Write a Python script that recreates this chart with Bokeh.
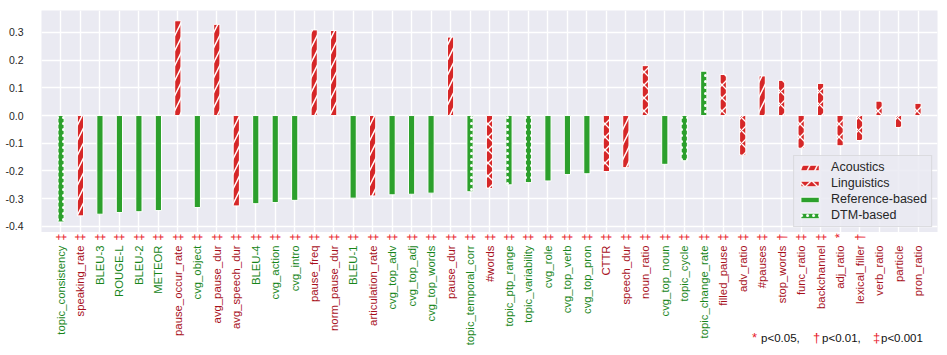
import math
from bokeh.plotting import figure
from bokeh.layouts import column
from bokeh.models import (ColumnDataSource, Range1d, FixedTicker, Legend, LegendItem,
                          PrintfTickFormatter)
from bokeh.core.properties import value, field
from bokeh.embed import file_html
from bokeh.resources import INLINE

# ---------------- data ----------------
features = ["topic_consistency", "speaking_rate", "BLEU-3", "ROUGE-L", "BLEU-2", "METEOR",
            "pause_occur_rate", "cvg_object", "avg_pause_dur", "avg_speech_dur", "BLEU-4",
            "cvg_action", "cvg_intro", "pause_freq", "norm_pause_dur", "BLEU-1",
            "articulation_rate", "cvg_top_adv", "cvg_top_adj", "cvg_top_words", "pause_dur",
            "topic_temporal_corr", "#words", "topic_ptp_range", "topic_variability", "cvg_role",
            "cvg_top_verb", "cvg_top_pron", "CTTR", "speech_dur", "noun_ratio", "cvg_top_noun",
            "topic_cycle", "topic_change_rate", "filled_pause", "adv_ratio", "#pauses",
            "stop_words", "func_ratio", "backchannel", "adj_ratio", "lexical_filler",
            "verb_ratio", "particle", "pron_ratio"]
groups = ["DTM-based", "Acoustics", "Reference-based", "Reference-based", "Reference-based", "Reference-based",
          "Acoustics", "Reference-based", "Acoustics", "Acoustics", "Reference-based",
          "Reference-based", "Reference-based", "Acoustics", "Acoustics", "Reference-based",
          "Acoustics", "Reference-based", "Reference-based", "Reference-based", "Acoustics",
          "DTM-based", "Linguistics", "DTM-based", "DTM-based", "Reference-based",
          "Reference-based", "Reference-based", "Linguistics", "Acoustics", "Linguistics", "Reference-based",
          "DTM-based", "DTM-based", "Linguistics", "Linguistics", "Acoustics",
          "Linguistics", "Linguistics", "Linguistics", "Linguistics", "Linguistics",
          "Linguistics", "Linguistics", "Linguistics"]
correlations = [-0.384, -0.362, -0.356, -0.350, -0.347, -0.343,
                0.342, -0.332, 0.329, -0.326, -0.318,
                -0.314, -0.306, 0.309, 0.307, -0.298,
                -0.290, -0.286, -0.284, -0.280, 0.283,
                -0.275, -0.263, -0.250, -0.242, -0.236,
                -0.213, -0.210, -0.202, -0.188, 0.180, -0.176,
                -0.163, 0.160, 0.148, -0.143, 0.143,
                0.127, -0.118, 0.116, -0.109, -0.090,
                0.052, -0.043, 0.044]
significance = ["‡"] * 37 + ["†", "‡", "‡", "*", "†", "", "", ""]
legend_order = ["Acoustics", "Linguistics", "Reference-based", "DTM-based"]
y_ticks = [-0.4, -0.3, -0.2, -0.1, 0.0, 0.1, 0.2, 0.3]
note_marks = ["*", "†", "‡"]
note_texts = ["p<0.05,", "p<0.01,", "p<0.001"]

# ---------------- styles ----------------
RED, GREEN = "#d62728", "#2ca02c"
style = {
    "Acoustics": dict(fill_color=RED, hatch_pattern="/", hatch_scale=15, hatch_weight=1.5),
    "Linguistics": dict(fill_color=RED, hatch_pattern="x", hatch_scale=13, hatch_weight=1.3),
    "Reference-based": dict(fill_color=GREEN, hatch_pattern=" ", hatch_scale=12, hatch_weight=1),
    "DTM-based": dict(fill_color=GREEN, hatch_pattern=".", hatch_scale=6, hatch_weight=2),
}
label_color = {"Acoustics": "#a8101c", "Linguistics": "#a8101c",
               "Reference-based": "#17861a", "DTM-based": "#17861a"}
MARK_COLOR = "#e8202a"
FONT = "Liberation Sans"
W = 947
LEFT, RIGHT = 41, 10

x_range = Range1d(-1, 45)

p = figure(width=W, height=232, output_backend="svg", toolbar_location=None,
           x_range=x_range, y_range=Range1d(-0.422, 0.379),
           min_border_left=LEFT, min_border_right=RIGHT, min_border_top=10, min_border_bottom=0)
p.background_fill_color = "#eaeaf2"
p.border_fill_color = "white"
p.outline_line_color = None

p.xaxis.visible = False
p.xgrid.ticker = FixedTicker(ticks=list(range(len(features))))
p.ygrid.ticker = FixedTicker(ticks=y_ticks)
for g in (p.xgrid, p.ygrid):
    g.grid_line_color = "white"
    g.grid_line_width = 1.4

ax = p.yaxis[0]
ax.ticker = FixedTicker(ticks=y_ticks)
ax.formatter = PrintfTickFormatter(format="%.1f")
ax.axis_line_color = None
ax.major_tick_line_color = None
ax.minor_tick_line_color = None
ax.major_label_standoff = 12
ax.major_label_text_font = FONT
ax.major_label_text_font_size = "10.5px"
ax.major_label_text_color = "#262626"

renderers = {}
for grp in legend_order:
    idx = [i for i, g in enumerate(groups) if g == grp]
    src = ColumnDataSource(dict(x=idx, top=[correlations[i] for i in idx]))
    renderers[grp] = p.vbar(x="x", top="top", bottom=0, width=0.32, source=src,
                            line_color="white", line_width=1, hatch_color="white",
                            **style[grp])

legend = Legend(items=[LegendItem(label=g, renderers=[renderers[g]]) for g in legend_order],
                location="bottom_right", margin=5, padding=4, spacing=2,
                glyph_width=23, glyph_height=7, label_standoff=10, label_height=14,
                label_text_font=FONT, label_text_font_size="12.5px", label_text_color="#262626",
                background_fill_color="#eaeaf2", background_fill_alpha=0.85,
                border_line_color="#cccccc", border_line_width=1)
p.add_layout(legend)

# ---------------- label strip (tick labels + note) ----------------
H2 = 123
p2 = figure(width=W, height=H2, output_backend="svg", toolbar_location=None,
            x_range=x_range, y_range=Range1d(H2, 0),
            x_axis_location=None, y_axis_location=None,
            min_border_left=LEFT, min_border_right=RIGHT, min_border_top=0, min_border_bottom=0)
p2.background_fill_color = "white"
p2.border_fill_color = "white"
p2.outline_line_color = None
p2.grid.visible = False

n = len(features)
lab_src = ColumnDataSource(dict(
    x=list(range(n)),
    yn=[13] * n,
    ym=[1] * n,
    name=features,
    mark=significance,
    color=[label_color[g] for g in groups],
))
p2.text(x="x", y="yn", text="name", source=lab_src, angle=math.pi / 2,
        text_align="right", text_baseline="middle", text_color=field("color"),
        text_font=value(FONT), text_font_size=value("11.3px"))
p2.text(x="x", y="ym", text="mark", source=lab_src, angle=math.pi / 2,
        text_align="right", text_baseline="middle", text_color=MARK_COLOR,
        text_font=value(FONT), text_font_size=value("12.5px"))


def px_to_x(px):
    return (px - LEFT) / 19.49 - 1


note_src = ColumnDataSource(dict(
    mx=[px_to_x(v) for v in (752, 813, 873)],
    tx=[px_to_x(v) for v in (761, 822, 881)],
    y=[105, 105, 105],
    mark=note_marks,
    txt=note_texts,
))
p2.text(x="mx", y="y", text="mark", source=note_src, text_color=MARK_COLOR,
        text_font=value(FONT), text_font_size=value("13px"), text_baseline="middle")
p2.text(x="tx", y="y", text="txt", source=note_src, text_color="#111111",
        text_font=value(FONT), text_font_size=value("11.5px"), text_baseline="middle")

layout = column(p, p2, spacing=0)
open("out.html", "w").write(file_html(layout, INLINE))
